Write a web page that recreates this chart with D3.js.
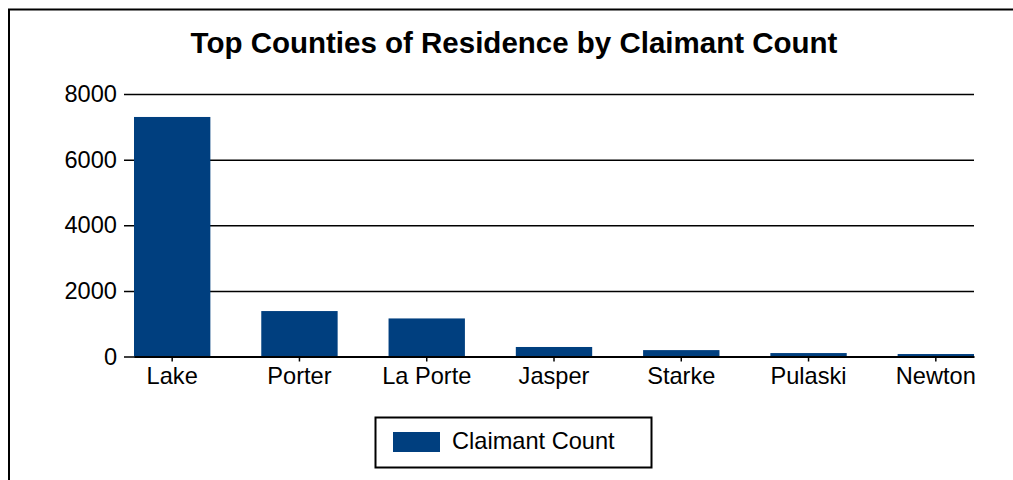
<!DOCTYPE html>
<html>
<head>
<meta charset="utf-8">
<script src="https://cdn.jsdelivr.net/npm/d3@7/dist/d3.min.js"></script>
<style>
  html, body { margin: 0; padding: 0; background: #fff; }
  svg { display: block; font-family: "Liberation Sans", Arial, sans-serif; }
</style>
</head>
<body>
<svg id="chart" width="1013" height="480"></svg>
<script>
const categories = ["Lake", "Porter", "La Porte", "Jasper", "Starke", "Pulaski", "Newton"];
const claimantCount = [7300, 1385, 1160, 290, 195, 105, 75];
const yTicks = [0, 2000, 4000, 6000, 8000];
const seriesName = "Claimant Count";
const titleText = "Top Counties of Residence by Claimant Count";

const svg = d3.select("#chart");
const barColor = "#003f7f";
const labelSize = 23.6;

// frame (top + left border)
svg.append("path")
  .attr("d", "M9,480 L9,9.5 L1013,9.5")
  .attr("fill", "none")
  .attr("stroke", "#000")
  .attr("stroke-width", 2);

// title
svg.append("text")
  .attr("x", 514).attr("y", 53)
  .attr("text-anchor", "middle")
  .attr("font-weight", "bold")
  .attr("font-size", 29.5)
  .attr("fill", "#000")
  .text(titleText);

const x = d3.scaleBand().domain(categories).range([134, 974]).paddingInner(0.4).paddingOuter(0);
const y = d3.scaleLinear().domain([0, 8000]).range([356.5, 94]);

// y axis with gridlines
const yAxis = svg.append("g")
  .attr("transform", "translate(974,0)")
  .call(d3.axisLeft(y).tickValues(yTicks).tickSize(850).tickPadding(7).tickFormat(d3.format("d")));
yAxis.select(".domain").remove();
yAxis.selectAll(".tick line").attr("stroke", "#000").attr("stroke-width", 1.5);
yAxis.selectAll(".tick text")
  .attr("font-size", labelSize).attr("fill", "#000")
  .attr("font-family", "'Liberation Sans', Arial, sans-serif");

// bars
svg.append("g").selectAll("rect")
  .data(categories.map((c, i) => ({ c, v: claimantCount[i] })))
  .join("rect")
  .attr("x", d => x(d.c))
  .attr("width", x.bandwidth())
  .attr("y", d => y(d.v))
  .attr("height", d => y(0) - y(d.v))
  .attr("fill", barColor);

// x axis
const xAxis = svg.append("g")
  .attr("transform", `translate(0,${y(0)})`)
  .call(d3.axisBottom(x).tickSize(5).tickSizeOuter(0).tickPadding(6));
xAxis.select(".domain").attr("stroke", "#000").attr("stroke-width", 2);
xAxis.selectAll(".tick line").attr("stroke", "#000").attr("stroke-width", 1.5);
xAxis.selectAll(".tick text")
  .attr("font-size", labelSize).attr("fill", "#000")
  .attr("font-family", "'Liberation Sans', Arial, sans-serif");

// legend
const legend = svg.append("g");
legend.append("rect")
  .attr("x", 375.5).attr("y", 417.5).attr("width", 276).attr("height", 50)
  .attr("fill", "#fff").attr("stroke", "#000").attr("stroke-width", 2);
legend.append("rect")
  .attr("x", 393).attr("y", 432).attr("width", 47).attr("height", 20)
  .attr("fill", barColor);
legend.append("text")
  .attr("x", 452).attr("y", 449)
  .attr("font-size", labelSize).attr("fill", "#000")
  .text(seriesName);
</script>
</body>
</html>
